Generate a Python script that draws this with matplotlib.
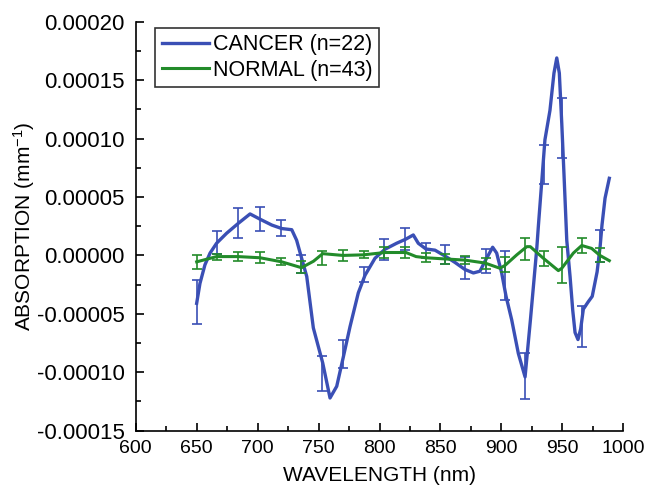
import matplotlib
matplotlib.use('Agg')
import matplotlib.pyplot as plt
import numpy as np
from matplotlib.ticker import MultipleLocator, FuncFormatter

plt.rcParams['font.family'] = ['Liberation Sans', 'DejaVu Sans']
plt.rcParams['mathtext.fontset'] = 'custom'
plt.rcParams['mathtext.rm'] = 'Liberation Sans'
plt.rcParams['mathtext.it'] = 'Liberation Sans'

# Werte (Absorption in 1e-5 mm^-1)
cancer_nm = [650, 652.7, 656.8, 661, 666.4, 674.6, 684.2, 693.8, 702, 711.6, 719.8, 728, 732,
             736, 740.3, 745.7, 753.4, 759.4, 764.9, 770.3, 775.8, 782.6, 788.1, 796.3, 804.5,
             814, 821.7, 827.7, 831.8, 838.1, 845.5, 853.7, 861.9, 870, 877, 882.4, 886.5,
             892.8, 896.1, 900.2, 903.8, 908.4, 913.9, 919.4, 923.8, 926.2, 929, 930.3, 933,
             935.7, 939.8, 943.1, 945.4, 947.5, 949.5, 951.3, 953.6, 956.3, 958.5, 960.4,
             962.8, 965, 967.2, 971, 974.5, 978.5, 981, 982.5, 985, 988.5]
cancer_val = [-4.1, -2.4, -0.8, 0.2, 1.05, 1.9, 2.75, 3.55, 3.1, 2.6, 2.3, 2.2, 1.3,
              -0.2, -1.8, -6.2, -9.2, -12.2, -11.2, -8.7, -6.1, -3.2, -1.7, -0.24, 0.53,
              1.04, 1.4, 1.75, 1.04, 0.55, 0.45, -0.05, -0.6, -1.2, -1.5, -1.35, -0.5,
              0.7, 0.2, -1.5, -3.5, -5.5, -8.4, -10.4, -5.5, -2.7, 0.6, 2.5, 6.2,
              9.9, 12.4, 15.6, 16.9, 15.6, 11.3, 7.0, 1.3, -1.8, -4.7, -6.6,
              -7.2, -6.3, -4.6, -4.0, -3.5, -1.4, 0.8, 2.6, 4.9, 6.6]

normal_nm = [650, 666.4, 684, 702, 719.8, 736, 745.8, 753.4, 770, 786.7, 804.5, 821.7, 830,
             838, 853.7, 870, 886.5, 898.8, 903, 912.6, 920.8, 923.7, 933.9, 946.7, 949.5,
             959, 965.9, 974, 980.8, 988.5]
normal_val = [-0.55, -0.1, -0.1, -0.2, -0.55, -1.05, -0.5, 0.15, 0.0, 0.05, 0.25, 0.25, -0.1,
              -0.2, -0.3, -0.4, -0.65, -1.1, -0.85, 0.05, 0.75, 0.75, -0.2, -1.3, -1.1,
              0.2, 0.85, 0.6, 0.0, -0.45]

err_nm = [650, 667, 684, 702, 719, 736, 753, 770, 787, 804, 821, 838, 854, 870, 887, 903,
          919, 935, 950, 966, 981]
cancer_err_val = [-4.0, 1.1, 2.75, 3.1, 2.35, -0.75, -10.1, -8.4, -1.6, 0.5, 1.4, 0.4, 0.1,
                  -1.1, -0.5, -1.7, -10.3, 7.8, 10.9, -6.1, 0.84]
cancer_err = [1.9, 0.95, 1.3, 1.05, 0.7, 0.75, 1.5, 1.2, 0.65, 0.9, 0.93, 0.65, 0.8,
              0.95, 1.03, 2.1, 1.97, 1.65, 2.55, 1.75, 1.37]
normal_err_val = [-0.6, -0.1, -0.1, -0.2, -0.5, -1.0, -0.2, 0.0, 0.05, 0.25, 0.25, -0.2, -0.3,
                  -0.4, -0.7, -0.75, 0.55, -0.3, -0.8, 0.83, 0.0]
normal_err = [0.6, 0.25, 0.4, 0.45, 0.3, 0.5, 0.6, 0.45, 0.3, 0.5, 0.5, 0.4, 0.4,
              0.35, 0.5, 0.64, 0.95, 0.64, 1.55, 0.64, 0.6]

s = 1e-5
blue = '#3a4fb5'
green = '#228b2a'

fig = plt.figure(figsize=(6.45, 4.86), dpi=100)
ax = fig.add_axes([0.2104, 0.1138, 0.756, 0.8415])

ax.errorbar(err_nm, np.array(cancer_err_val) * s, yerr=np.array(cancer_err) * s,
            fmt='none', ecolor=blue, elinewidth=1.2, capsize=3.5, capthick=1.2)
ax.plot(cancer_nm, np.array(cancer_val) * s, color=blue, lw=2.4, label='CANCER (n=22)')
ax.errorbar(err_nm, np.array(normal_err_val) * s, yerr=np.array(normal_err) * s,
            fmt='none', ecolor=green, elinewidth=1.2, capsize=3.5, capthick=1.2)
ax.plot(normal_nm, np.array(normal_val) * s, color=green, lw=2.2, label='NORMAL (n=43)')

ax.set_xlim(600, 1000)
ax.set_ylim(-0.00015, 0.00020)
ax.spines['top'].set_visible(False)
ax.spines['right'].set_visible(False)
ax.spines['left'].set_linewidth(1.2)
ax.spines['bottom'].set_linewidth(1.2)

ax.xaxis.set_major_locator(MultipleLocator(50))
ax.xaxis.set_minor_locator(MultipleLocator(25))
ax.yaxis.set_major_locator(MultipleLocator(0.00005))
ax.yaxis.set_minor_locator(MultipleLocator(0.000025))
ax.yaxis.set_major_formatter(FuncFormatter(lambda v, p: '0.00000' if abs(v) < 1e-9 else f'{v:.5f}'))
ax.tick_params(which='major', direction='in', length=6, width=1.2)
ax.tick_params(which='minor', direction='in', length=3.5, width=1.2)
ax.tick_params(axis='x', which='major', labelsize=14, pad=7)
ax.tick_params(axis='y', which='major', labelsize=16, pad=8)

ax.set_xlabel('WAVELENGTH (nm)', fontsize=15)
ax.set_ylabel('ABSORPTION (mm$^{-1}$)', fontsize=15)
ax.xaxis.set_label_coords(0.5, -0.086)
ax.yaxis.set_label_coords(-0.203, 0.5)

leg = ax.legend(loc='upper left', bbox_to_anchor=(0.04, 0.985), borderaxespad=0,
                fontsize=15.5, frameon=True, fancybox=False, handlelength=2.2,
                handletextpad=0.2, labelspacing=0.2, borderpad=0.3)
leg.get_frame().set_edgecolor('black')
leg.get_frame().set_linewidth(1.2)

fig.savefig('out.png', dpi=100)
